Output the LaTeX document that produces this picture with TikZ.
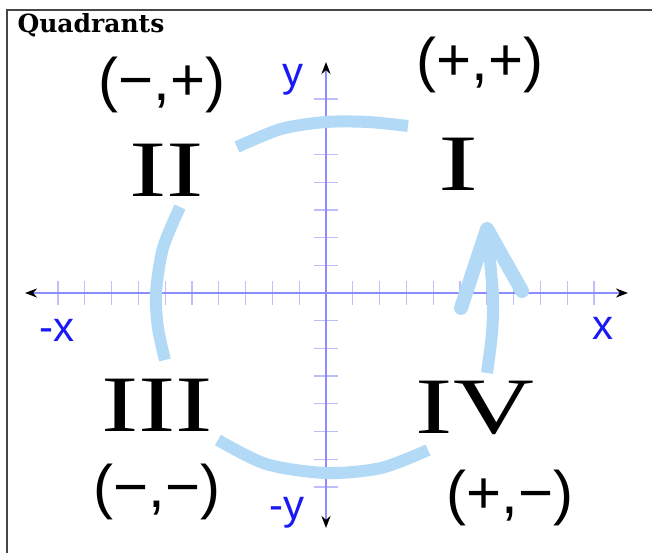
\documentclass[tikz,border=0pt]{standalone}
\usepackage{fontspec}
\usetikzlibrary{arrows.meta}
\newfontfamily\handfont{Liberation Sans}
\newfontfamily\numfont{Liberation Serif}
\newfontfamily\titlefont{DejaVu Serif}
\definecolor{axisblue}{RGB}{140,140,255}
\definecolor{tickblue}{RGB}{190,190,255}
\definecolor{labelblue}{RGB}{25,25,245}
\definecolor{loopblue}{RGB}{178,218,246}
\definecolor{framegray}{RGB}{70,70,70}

\begin{document}
\begin{tikzpicture}[x=1pt, y=1pt,
    axis/.style={axisblue, line width=2.5pt,
        {Stealth[black,length=12pt,width=9pt]}-{Stealth[black,length=12pt,width=9pt]}},
    tickmark/.style={tickblue, line width=1.3pt},
    axislabel/.style={labelblue, font=\handfont\fontsize{42}{44}\selectfont},
    sign/.style={font=\handfont\fontsize{60}{64}\selectfont},
    numeral/.style={font=\numfont\fontsize{80}{84}\selectfont},
    loop/.style={loopblue, line width=12pt}]
    \useasboundingbox (-326,-260) rectangle (326,293);
    % frame and title
    \draw[framegray, line width=2.5pt] (-319,-260) -- (-319,283) -- (326,283);
    \node[anchor=base west, font=\titlefont\bfseries\fontsize{25}{27}\selectfont] (title) at (-312,260) {Quadrants};
    % axes
    \coordinate (xmin) at (-301,0);
    \coordinate (xmax) at (302,0);
    \coordinate (ymin) at (0,-235);
    \coordinate (ymax) at (0,231);
    \foreach \k in {-10,...,-1,1,2,...,10}
        \draw[tickmark] (\k*26.8,-12) -- (\k*26.8,12);
    \foreach \k in {-7,...,-1,1,2,...,7}
        \draw[tickmark] (-12,\k*27.7) -- (12,\k*27.7);
    \draw[axis] (xmin) -- (xmax);
    \draw[axis] (ymin) -- (ymax);
    \node[axislabel] (xlabel) at (277,-35) {x};
    \node[axislabel] (nxlabel) at (-269,-37) {-x};
    \node[axislabel] (ylabel) at (-33,213) {y};
    \node[axislabel] (nylabel) at (-39,-220) {-y};
    % the loop through the quadrants
    \draw[loop] plot[smooth] coordinates {(-89,146) (-45,164) (0,171) (42,171) (82,167)};
    \draw[loop] plot[smooth] coordinates {(-146,86) (-163,45) (-170,0) (-168,-35) (-161,-67)};
    \draw[loop] plot[smooth] coordinates {(-108,-147) (-60,-171) (0,-180) (55,-175) (102,-157)};
    \draw[loop] plot[smooth] coordinates {(161,-80) (166,-40) (167,-5) (164,33) (161,63)};
    \draw[loop, line width=14pt, line cap=round, line join=round] (135,-15) -- (161,64) -- (196,2);
    % quadrant names and signs
    \node[numeral] (q1) at (132,129) {\scalebox{1.5}[1]{I}};
    \node[numeral] (q2) at (-159,123) {\scalebox{1.4}[1]{II}};
    \node[numeral] (q3) at (-169,-112) {\scalebox{1.4}[1]{III}};
    \node[numeral] (q4) at (149,-115) {\scalebox{1.4}[1]{IV}};
    \node[sign] (s1) at (154,228) {(+,+)};
    \node[sign] (s2) at (-164,208) {(−,+)};
    \node[sign] (s3) at (-169,-199) {(−,−)};
    \node[sign] (s4) at (184,-205) {(+,−)};
\end{tikzpicture}
\end{document}
